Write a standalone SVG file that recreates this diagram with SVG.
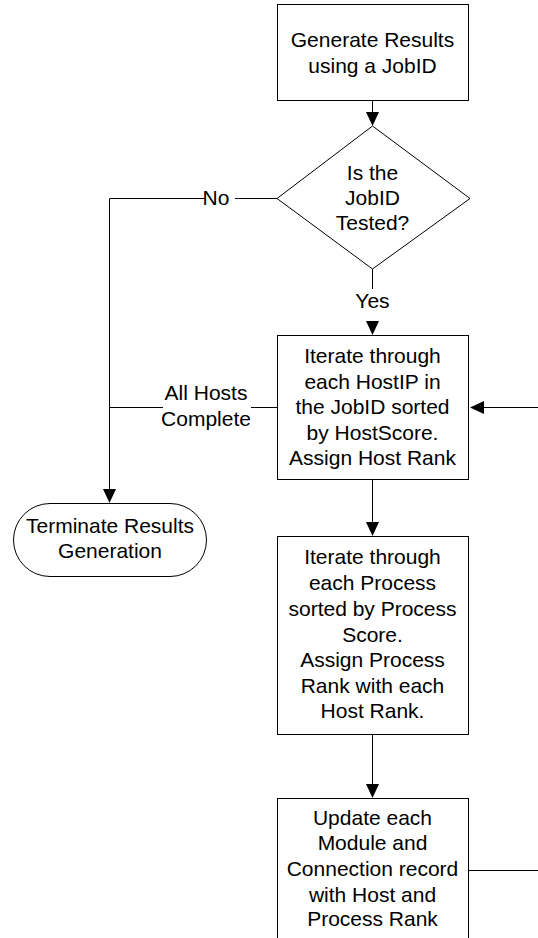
<svg xmlns="http://www.w3.org/2000/svg" width="538" height="938" viewBox="0 0 538 938">
<style>
.shape{fill:#fff;stroke:#000;stroke-width:1}
.line{fill:none;stroke:#000;stroke-width:1}
.arrow{fill:#000;stroke:none}
text{font-family:"Liberation Sans",Arial,sans-serif;font-size:21px;fill:#000;text-anchor:middle}
</style>
<rect width="538" height="938" fill="#fff"/>
<g id="connectors">
<line class="line" x1="372.5" y1="100" x2="372.5" y2="113"/>
<polygon class="arrow" points="366,112 379,112 372.5,126"/>
<polyline class="line" points="277,198.5 235,198.5"/>
<polyline class="line" points="205,198.5 109.5,198.5 109.5,491"/>
<polygon class="arrow" points="103,489 116,489 109.5,503"/>
<line class="line" x1="277" y1="407.5" x2="251" y2="407.5"/>
<line class="line" x1="163" y1="407.5" x2="109.5" y2="407.5"/>
<line class="line" x1="372.5" y1="269" x2="372.5" y2="289"/>
<polygon class="arrow" points="366,321 379,321 372.5,335"/>
<line class="line" x1="538" y1="407.5" x2="482" y2="407.5"/>
<polygon class="arrow" points="484,401 484,414 470,407.5"/>
<line class="line" x1="372.5" y1="479" x2="372.5" y2="524"/>
<polygon class="arrow" points="366,522 379,522 372.5,536"/>
<line class="line" x1="372.5" y1="734" x2="372.5" y2="785"/>
<polygon class="arrow" points="366,784 379,784 372.5,798"/>
<line class="line" x1="469" y1="870.5" x2="538" y2="870.5"/>
<text x="216" y="205">No</text>
<text x="372.5" y="308">Yes</text>
<text x="206" y="400">All Hosts</text>
<text x="206" y="426">Complete</text>
</g>
<g id="generate">
<rect class="shape" x="277.5" y="4.5" width="191" height="96"/>
<text x="372.5" y="47">Generate Results</text>
<text x="372.5" y="73">using a JobID</text>
</g>
<g id="decision">
<polygon class="shape" points="372.5,126 470,198.5 372.5,269 277,198.5"/>
<text x="372.5" y="180">Is the</text>
<text x="372.5" y="205">JobID</text>
<text x="372.5" y="230">Tested?</text>
</g>
<g id="terminate">
<rect class="shape" x="13.5" y="503.5" width="193" height="73" rx="36.5" ry="36.5"/>
<text x="110" y="533">Terminate Results</text>
<text x="110" y="558">Generation</text>
</g>
<g id="iterate-hosts">
<rect class="shape" x="277.5" y="335.5" width="191" height="144"/>
<text x="372.5" y="363">Iterate through</text>
<text x="372.5" y="388.5">each HostIP in</text>
<text x="372.5" y="414">the JobID sorted</text>
<text x="372.5" y="439.5">by HostScore.</text>
<text x="372.5" y="465">Assign Host Rank</text>
</g>
<g id="iterate-processes">
<rect class="shape" x="277.5" y="536.5" width="191" height="198"/>
<text x="372.5" y="564">Iterate through</text>
<text x="372.5" y="590">each Process</text>
<text x="372.5" y="616">sorted by Process</text>
<text x="372.5" y="642">Score.</text>
<text x="372.5" y="667">Assign Process</text>
<text x="372.5" y="693">Rank with each</text>
<text x="372.5" y="718">Host Rank.</text>
</g>
<g id="update">
<rect class="shape" x="277.5" y="798.5" width="191" height="160"/>
<text x="372.5" y="825">Update each</text>
<text x="372.5" y="850">Module and</text>
<text x="372.5" y="876">Connection record</text>
<text x="372.5" y="902">with Host and</text>
<text x="372.5" y="926">Process Rank</text>
</g>
</svg>
